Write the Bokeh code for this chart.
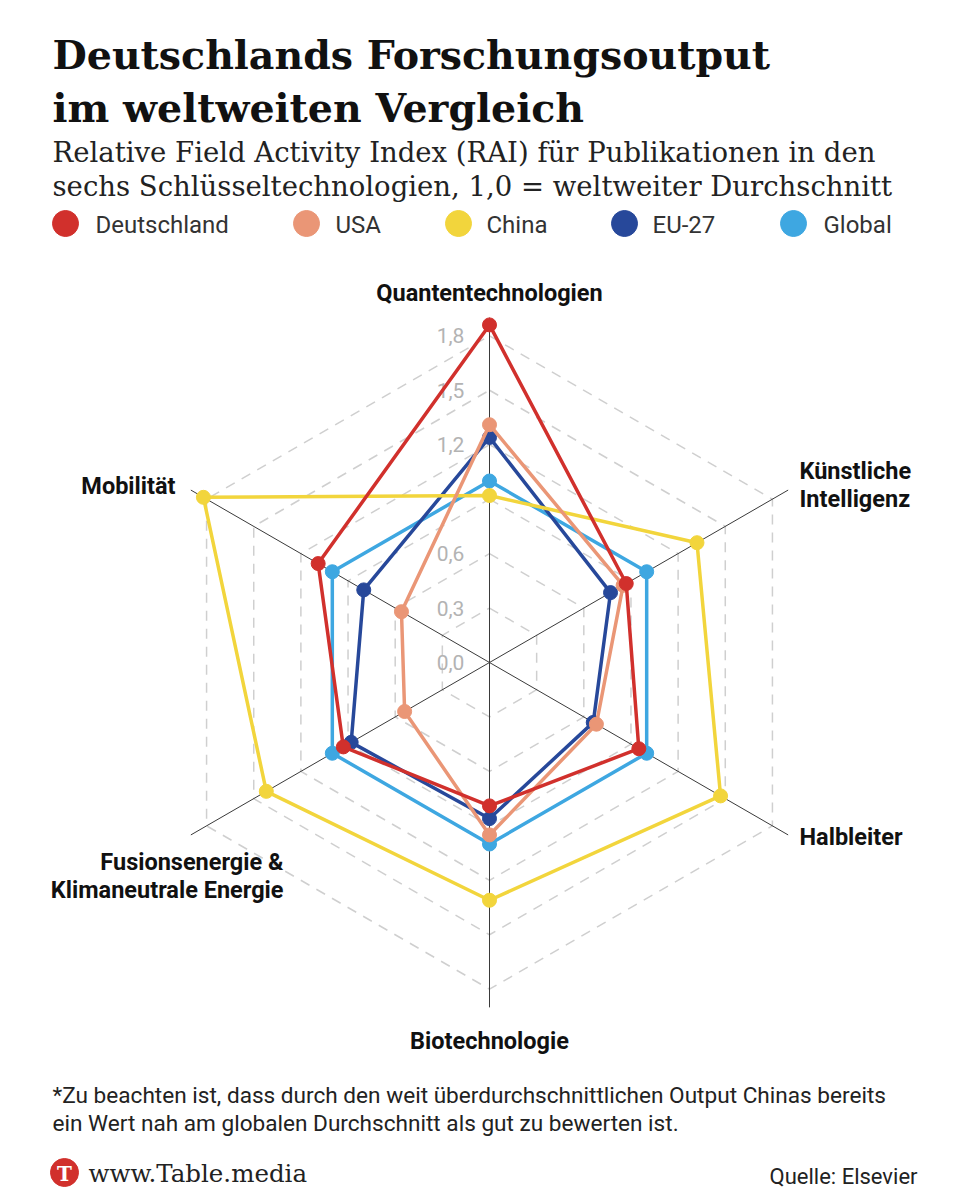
import numpy as np
from bokeh.plotting import figure
from bokeh.models import Range1d
from bokeh.core.properties import value
from bokeh.embed import file_html
from bokeh.resources import INLINE

# ---------------- data ----------------
categories = ["Quantentechnologien", "Künstliche Intelligenz", "Halbleiter",
              "Biotechnologie", "Fusionsenergie & Klimaneutrale Energie", "Mobilität"]
series_names = ["Deutschland", "USA", "China", "EU-27", "Global"]
deutschland = [1.86, 0.87, 0.95, 0.79, 0.93, 1.09]
usa = [1.31, 0.85, 0.68, 0.95, 0.54, 0.56]
china = [0.92, 1.32, 1.47, 1.31, 1.42, 1.82]
eu27 = [1.24, 0.77, 0.66, 0.86, 0.88, 0.80]
global_avg = [1.00, 1.00, 1.00, 1.00, 1.00, 1.00]
series_colors = ["#d1302c", "#ea9676", "#f2d53c", "#27489a", "#3ea7e1"]
tick_values = [0.0, 0.3, 0.6, 0.9, 1.2, 1.5, 1.8]
tick_labels = ["0,0", "0,3", "0,6", "", "1,2", "1,5", "1,8"]
scale_max = 1.9

# ---------------- geometry helpers ----------------
S = 181.5          # px per unit
CX, CY = 489, 662  # centre on page (screen px)
W, H = 948, 1192

def X(xs):
    return (xs - CX) / S

def Y(ys):
    return (CY - ys) / S

angles = np.deg2rad([90, 30, -30, -90, -150, 150])

p = figure(width=W, height=H, output_backend="svg", toolbar_location=None,
           x_range=Range1d(X(0), X(W)), y_range=Range1d(Y(H), Y(0)),
           min_border=0, outline_line_color=None)
p.axis.visible = False
p.grid.visible = False
p.background_fill_color = "white"
p.border_fill_color = "white"

# grid rings
ring_xs, ring_ys = [], []
for v in tick_values[1:]:
    ring_xs.append(list(v * np.cos(angles)) + [v * np.cos(angles[0])])
    ring_ys.append(list(v * np.sin(angles)) + [v * np.sin(angles[0])])
p.multi_line(ring_xs, ring_ys, line_color="#cfcfcf", line_width=1.5, line_dash="10 8")

# angle lines
p.segment(x0=[0] * 6, y0=[0] * 6,
          x1=list(scale_max * np.cos(angles)), y1=list(scale_max * np.sin(angles)),
          line_color="#3a3a3a", line_width=1)

# tick labels
tl = [(v, t) for v, t in zip(tick_values, tick_labels) if t]
p.text(x=[X(450)] * len(tl), y=[v for v, _ in tl], text=[t for _, t in tl],
       text_align="center", text_baseline="middle", text_color="#b3b3b3",
       text_font=value("Roboto"), text_font_size="21px")

# series (drawn in reverse so Deutschland ends on top)
all_series = [deutschland, usa, china, eu27, global_avg]
for name, vals, col in reversed(list(zip(series_names, all_series, series_colors))):
    v = np.array(vals)
    xs = list(v * np.cos(angles))
    ys = list(v * np.sin(angles))
    p.line(xs + [xs[0]], ys + [ys[0]], line_color=col, line_width=3.5)
    p.scatter(xs, ys, size=14, fill_color=col, line_color=col)

# category labels
font_b = dict(text_font=value("Roboto"), text_font_style="bold",
              text_font_size="23.5px", text_color="#111111", text_baseline="middle")
p.text(x=[X(489)], y=[Y(292)], text=["Quantentechnologien"], text_align="center", **font_b)
p.text(x=[X(799), X(799)], y=[Y(470), Y(498)], text=["Künstliche", "Intelligenz"],
       text_align="left", **font_b)
p.text(x=[X(799)], y=[Y(836)], text=["Halbleiter"], text_align="left", **font_b)
p.text(x=[X(489)], y=[Y(1040)], text=["Biotechnologie"], text_align="center", **font_b)
p.text(x=[X(283), X(283)], y=[Y(861), Y(889)],
       text=["Fusionsenergie &", "Klimaneutrale Energie"], text_align="right", **font_b)
p.text(x=[X(175)], y=[Y(485)], text=["Mobilität"], text_align="right", **font_b)

# title & subtitle
p.text(x=[X(52), X(52)], y=[Y(54), Y(107)],
       text=["Deutschlands Forschungsoutput", "im weltweiten Vergleich"],
       text_font=value("DejaVu Serif"), text_font_style="bold", text_font_size="39.5px",
       text_color="#111111", text_baseline="alphabetic", text_align="left")
p.text(x=[X(52), X(52)], y=[Y(151), Y(185)],
       text=["Relative Field Activity Index (RAI) für Publikationen in den",
             "sechs Schlüsseltechnologien, 1,0 = weltweiter Durchschnitt"],
       text_font=value("DejaVu Serif"), text_font_size="27.5px",
       text_color="#222222", text_baseline="alphabetic", text_align="left")

# legend
leg_cx = [65, 306, 458, 624, 793]
leg_tx = [95, 335, 486, 652, 823]
p.scatter([X(c) for c in leg_cx], [Y(223)] * 5, size=26,
          fill_color=series_colors, line_color=series_colors)
p.text(x=[X(t) for t in leg_tx], y=[Y(224)] * 5, text=series_names,
       text_font=value("Roboto"), text_font_size="24px", text_color="#333333",
       text_baseline="middle", text_align="left")

# footnote
p.text(x=[X(52), X(52)], y=[Y(1095), Y(1123)],
       text=["*Zu beachten ist, dass durch den weit überdurchschnittlichen Output Chinas bereits",
             "ein Wert nah am globalen Durchschnitt als gut zu bewerten ist."],
       text_font=value("Roboto"), text_font_size="22.6px", text_color="#222222",
       text_baseline="middle", text_align="left")

# branding / source
p.scatter([X(64)], [Y(1172)], size=28, fill_color="#d1302c", line_color="#d1302c")
p.text(x=[X(64)], y=[Y(1173)], text=["T"], text_font=value("DejaVu Serif"),
       text_font_style="bold", text_font_size="20px", text_color="white",
       text_align="center", text_baseline="middle")
p.text(x=[X(88)], y=[Y(1173)], text=["www.Table.media"], text_font=value("DejaVu Serif"),
       text_font_size="24.5px", text_color="#222222", text_align="left", text_baseline="middle")
p.text(x=[X(917)], y=[Y(1176)], text=["Quelle: Elsevier"], text_font=value("Roboto"),
       text_font_size="22px", text_color="#222222", text_align="right", text_baseline="middle")

open("out.html", "w").write(file_html(p, INLINE))
